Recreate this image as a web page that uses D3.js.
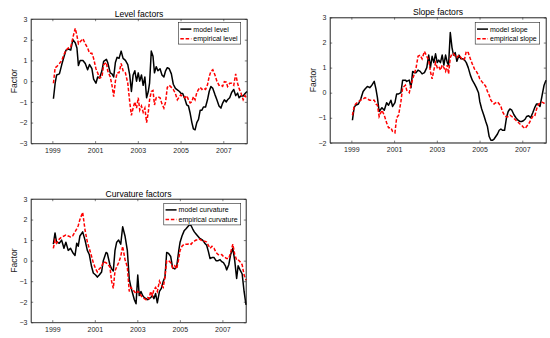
<!DOCTYPE html>
<html>
<head>
<meta charset="utf-8">
<script src="https://cdn.jsdelivr.net/npm/d3@7"></script>
<style>
  body { margin: 0; background: #fff; }
  svg { font-family: "Liberation Sans", Arial, Helvetica, sans-serif; }
</style>
</head>
<body>
<div id="container"></div>
<script>
// sample dates (decimal years), shared by all six series
const dates = [
  1999.05,1999.13,1999.20,1999.33,1999.44,1999.55,1999.64,1999.75,1999.86,1999.96,
  2000.07,2000.15,2000.22,2000.30,2000.43,2000.54,2000.65,2000.74,2000.85,2000.93,
  2001.04,2001.12,2001.21,2001.32,2001.40,2001.53,2001.59,2001.71,2001.79,2001.87,
  2001.95,2002.03,2002.12,2002.22,2002.31,2002.42,2002.53,2002.62,2002.70,2002.78,
  2002.86,2002.94,2003.02,2003.09,2003.17,2003.25,2003.33,2003.41,2003.49,2003.55,
  2003.63,2003.71,2003.78,2003.86,2003.94,2004.04,2004.13,2004.22,2004.30,2004.38,
  2004.47,2004.57,2004.66,2004.76,2004.85,2004.95,2005.01,2005.10,2005.20,2005.29,
  2005.37,2005.45,2005.53,2005.60,2005.68,2005.76,2005.84,2005.92,2006.00,2006.07,
  2006.17,2006.26,2006.34,2006.42,2006.51,2006.61,2006.70,2006.80,2006.89,2006.97,
  2007.05,2007.14,2007.20,2007.30,2007.39,2007.49,2007.58,2007.67,2007.74,2007.83,
  2007.93,2008.02,2008.11
];

const levelModel = [
  -0.85,-0.1,0.3,0.35,0.8,1.2,1.5,1.55,1.5,2.0,
  1.85,1.6,0.75,1.0,1.0,0.85,0.55,0.8,0.6,0.1,
  -0.1,0.2,0.15,0.5,0.95,1.05,0.9,0.4,0.35,0.2,
  0.9,1.15,1.1,1.45,1.1,1.0,0.8,0.3,-0.5,0.3,
  0.5,0.0,0.4,0.0,0.3,-0.2,0.2,-0.8,-0.5,-0.1,
  1.45,1.2,0.4,0.7,0.5,0.6,0.3,0.2,0.5,0.65,
  0.6,0.35,-0.15,-0.35,-0.42,-0.5,-0.58,-0.6,-0.85,-1.15,
  -1.2,-1.55,-2.0,-2.3,-2.35,-2.0,-1.85,-1.4,-1.4,-1.25,
  -1.25,-0.9,-0.5,-0.26,-0.35,-0.65,-0.9,-1.2,-1.3,-1.06,
  -0.9,-1.0,-0.9,-0.8,-0.55,-0.4,-0.7,-0.58,-0.8,-0.7,
  -0.72,-0.6,-0.5
];
const levelEmpirical = [
  -0.1,0.65,0.7,0.85,1.0,1.3,1.5,1.6,1.65,2.1,
  2.55,2.2,1.8,1.9,2.05,1.8,1.6,1.35,1.35,1.1,
  0.6,0.4,0.15,0.2,0.8,0.9,0.5,0.2,-0.2,-0.75,
  0.0,0.4,0.4,0.85,0.5,0.4,-0.1,-1.0,-1.65,-1.3,
  -1.0,-1.3,-0.8,-1.4,-1.2,-1.5,-1.3,-2.0,-1.5,-0.9,
  -0.5,-0.45,-1.15,-0.8,-0.75,-0.8,-1.1,-1.3,-1.0,-0.3,
  -0.2,-0.3,-0.4,-0.6,-0.9,-0.75,-0.66,-0.75,-0.8,-0.7,
  -0.9,-1.05,-1.0,-0.75,-0.9,-0.55,-0.4,-0.3,-0.4,-0.34,
  -0.4,-0.18,0.22,0.47,0.55,0.3,0.0,-0.2,-0.18,-0.25,
  -0.02,-0.05,-0.26,-0.1,-0.1,-0.2,0.35,-0.1,-0.35,-0.58,
  -0.9,-0.7,-0.85
];

const slopeModel = [
  -1.1,-0.6,-0.5,-0.45,-0.25,0.05,0.15,0.25,0.2,0.3,
  0.45,0.15,-0.2,-0.75,-0.6,-0.7,-0.4,-0.5,-0.3,-0.55,
  -0.4,-0.05,-0.05,0.0,0.5,0.5,0.45,0.5,0.2,0.85,
  0.8,0.8,0.9,0.85,0.75,0.8,1.0,1.5,1.0,1.45,
  1.2,1.55,1.2,1.3,1.2,1.5,1.1,1.5,1.2,1.1,
  2.4,1.8,1.5,1.6,1.25,1.5,1.35,1.35,1.3,1.2,
  1.0,0.7,0.5,0.35,0.2,0.0,-0.35,-0.65,-0.9,-1.15,
  -1.35,-1.75,-1.9,-1.9,-1.85,-1.75,-1.65,-1.5,-1.45,-1.5,
  -1.5,-1.0,-0.75,-0.65,-0.7,-0.88,-1.0,-1.1,-1.15,-1.15,
  -1.12,-1.05,-0.95,-0.92,-1.0,-0.8,-0.6,-0.45,-0.45,-0.55,
  -0.1,0.3,0.5
];
const slopeEmpirical = [
  -0.9,-0.55,-0.45,-0.35,-0.3,-0.25,-0.2,-0.25,-0.3,-0.3,
  -0.3,-0.45,-0.5,-0.95,-0.7,-0.9,-1.2,-1.4,-1.4,-1.55,
  -1.6,-1.0,-0.9,-0.35,0.2,0.3,0.1,0.0,0.3,0.55,
  0.75,1.0,1.45,1.5,1.35,1.65,1.45,1.3,0.85,0.55,
  0.9,1.2,1.0,1.05,0.9,1.1,1.0,0.85,1.1,0.75,
  1.4,1.55,1.55,1.45,1.4,1.5,1.4,1.3,1.35,1.65,
  1.6,1.35,1.15,0.95,0.85,0.7,0.55,0.45,0.35,0.25,
  0.05,-0.1,-0.3,-0.38,-0.45,-0.4,-0.37,-0.45,-0.55,-0.75,
  -0.9,-0.97,-0.95,-0.9,-0.95,-1.03,-1.1,-1.18,-1.25,-1.3,
  -1.38,-1.43,-1.35,-1.25,-1.1,-0.95,-0.95,-0.65,-0.5,-0.4,
  -0.38,-0.42,-0.43
];

const curvatureModel = [
  0.8,1.35,0.9,0.85,1.0,0.6,0.9,0.5,0.6,0.4,
  0.25,0.85,0.7,1.2,1.4,1.0,0.5,0.3,-0.3,-0.6,
  -0.7,-0.8,-0.7,-0.55,0.0,0.4,0.35,-0.2,-0.4,-0.5,
  0.5,0.9,1.0,0.8,1.65,1.2,0.5,-0.9,-1.3,-1.6,
  -1.9,-2.1,-0.7,-1.7,-1.5,-1.7,-1.8,-1.85,-1.9,-1.85,
  -1.8,-1.7,-1.85,-1.6,-2.05,-1.5,-1.35,-1.0,-0.8,0.4,
  0.35,0.2,-0.35,-0.4,-0.3,0.5,0.9,1.2,1.45,1.55,
  1.65,1.75,1.7,1.55,1.4,1.3,1.2,1.1,1.05,1.0,
  0.85,0.75,0.45,0.1,0.15,0.15,0.0,0.0,0.05,-0.05,
  -0.1,-0.25,-0.45,-0.2,0.3,0.6,0.0,-0.87,-0.25,-0.45,
  -0.65,-1.5,-2.15
];
const curvatureEmpirical = [
  0.6,1.0,0.85,1.05,1.15,1.2,1.25,1.2,1.15,1.2,
  1.4,1.55,1.7,2.0,2.35,1.5,0.9,0.6,0.2,-0.1,
  -0.4,-0.55,-0.4,-0.3,-0.05,-0.1,-0.15,-0.3,-1.0,-1.35,
  -0.5,-0.3,-0.1,0.2,0.7,0.05,-0.3,-1.5,-1.3,-1.4,
  -1.5,-1.6,-1.5,-1.55,-1.7,-1.8,-1.85,-1.9,-1.8,-1.85,
  -1.5,-1.7,-1.4,-1.3,-1.5,-1.0,-1.2,-1.3,-0.8,0.0,
  0.0,-0.1,-0.35,-0.25,-0.4,0.1,0.5,0.7,0.8,0.8,
  0.8,0.85,0.8,0.9,0.95,1.0,1.0,1.05,1.0,0.95,
  0.95,0.9,0.75,0.6,0.7,0.6,0.4,0.3,0.28,0.3,
  0.2,0.15,0.1,0.1,0.4,0.8,0.3,0.03,0.05,-0.05,
  -0.2,-0.7,-0.95
];

const yearTicks = [1999, 2001, 2003, 2005, 2007];
const xDomain = [1998, 2008.11];

const axisColor = "#262626";

const svg = d3.select("#container")
  .append("svg")
  .attr("width", 550)
  .attr("height", 338);

function drawPanel(p) {
  const x = d3.scaleLinear().domain(xDomain).range([p.left, p.right]);
  const y = d3.scaleLinear().domain(p.yDomain).range([p.bottom, p.top]);
  const yTicks = d3.range(p.yDomain[0], p.yDomain[1] + 1);
  const tick = 2.2;

  const g = svg.append("g");

  // bottom and left axes, ticks pointing inward
  const xa = g.append("g")
    .attr("transform", `translate(0,${p.bottom})`)
    .call(d3.axisBottom(x).tickValues(yearTicks).tickFormat(d3.format("d"))
      .tickSizeInner(-tick).tickSizeOuter(0).tickPadding(4.5));
  const ya = g.append("g")
    .attr("transform", `translate(${p.left},0)`)
    .call(d3.axisLeft(y).tickValues(yTicks).tickFormat(d3.format("d"))
      .tickSizeInner(-tick).tickSizeOuter(0).tickPadding(3.5));
  // mirrored ticks on top and right
  const xt = g.append("g")
    .attr("transform", `translate(0,${p.top})`)
    .call(d3.axisTop(x).tickValues(yearTicks).tickFormat("")
      .tickSizeInner(-tick).tickSizeOuter(0));
  const yr = g.append("g")
    .attr("transform", `translate(${p.right},0)`)
    .call(d3.axisRight(y).tickValues(yTicks).tickFormat("")
      .tickSizeInner(-tick).tickSizeOuter(0));

  [xa, ya, xt, yr].forEach(a => {
    a.selectAll("path, line").attr("stroke", axisColor).attr("stroke-width", 0.6);
    a.selectAll("text").attr("fill", axisColor).style("font-size", "7px")
      .style("font-family", "'Liberation Sans', Arial, sans-serif");
  });

  // series lines
  const line = d3.line().x((d, i) => x(dates[i])).y(d => y(d));
  g.append("path")
    .attr("d", line(p.model))
    .attr("fill", "none")
    .attr("stroke", "#000")
    .attr("stroke-width", 1.5)
    .attr("stroke-linejoin", "round");
  g.append("path")
    .attr("d", line(p.empirical))
    .attr("fill", "none")
    .attr("stroke", "#ff0000")
    .attr("stroke-width", 1.5)
    .attr("stroke-dasharray", "3.5,1.8");

  // title
  g.append("text")
    .attr("x", (p.left + p.right) / 2)
    .attr("y", p.top - 2.5)
    .attr("text-anchor", "middle")
    .style("font-size", "8.6px")
    .attr("fill", "#000")
    .text(p.title);

  // y label
  g.append("text")
    .attr("transform", `translate(${p.left - 14},${(p.top + p.bottom) / 2}) rotate(-90)`)
    .attr("text-anchor", "middle")
    .style("font-size", "8.6px")
    .attr("fill", axisColor)
    .text("Factor");

  // legend (top right, white box)
  const lg = g.append("g");
  const texts = p.labels.map((t, i) => lg.append("text")
    .attr("y", i * 9.7)
    .attr("dy", "0.35em")
    .style("font-size", "7px")
    .attr("fill", "#000")
    .text(t));
  const tw = d3.max(texts, t => t.node().getComputedTextLength());
  const boxW = 2 + 11 + 1.8 + tw + 3;
  const boxH = 21.6;
  const bx = p.right - p.legendInset - boxW;
  const by = p.top + p.legendTop;
  lg.insert("rect", "text")
    .attr("x", bx).attr("y", by)
    .attr("width", boxW).attr("height", boxH)
    .attr("fill", "#fff")
    .attr("stroke", axisColor)
    .attr("stroke-width", 0.6);
  texts.forEach((t, i) => {
    const cy = by + 6.6 + i * 9.7;
    t.attr("x", bx + 2 + 11 + 1.8).attr("y", cy);
    lg.append("line")
      .attr("x1", bx + 1.8).attr("x2", bx + 12.8)
      .attr("y1", cy).attr("y2", cy)
      .attr("stroke", i === 0 ? "#000" : "#ff0000")
      .attr("stroke-width", 1.5)
      .attr("stroke-dasharray", i === 0 ? null : "3.5,1.8");
  });

  // box around axes
  g.append("rect")
    .attr("x", p.left).attr("y", p.top)
    .attr("width", p.right - p.left).attr("height", p.bottom - p.top)
    .attr("fill", "none")
    .attr("stroke", axisColor)
    .attr("stroke-width", 0.6);
}

drawPanel({
  left: 31, right: 247, top: 19, bottom: 143.3,
  yDomain: [-3, 3], title: "Level factors",
  model: levelModel, empirical: levelEmpirical,
  labels: ["model level", "empirical level"],
  legendInset: 6.3, legendTop: 3.5
});
drawPanel({
  left: 330, right: 546, top: 17.5, bottom: 142.8,
  yDomain: [-2, 3], title: "Slope factors",
  model: slopeModel, empirical: slopeEmpirical,
  labels: ["model slope", "empirical slope"],
  legendInset: 6.3, legendTop: 5
});
drawPanel({
  left: 31, right: 246, top: 199, bottom: 322.3,
  yDomain: [-3, 3], title: "Curvature factors",
  model: curvatureModel, empirical: curvatureEmpirical,
  labels: ["model curvature", "empirical curvature"],
  legendInset: 5.3, legendTop: 4.3
});
</script>
</body>
</html>
